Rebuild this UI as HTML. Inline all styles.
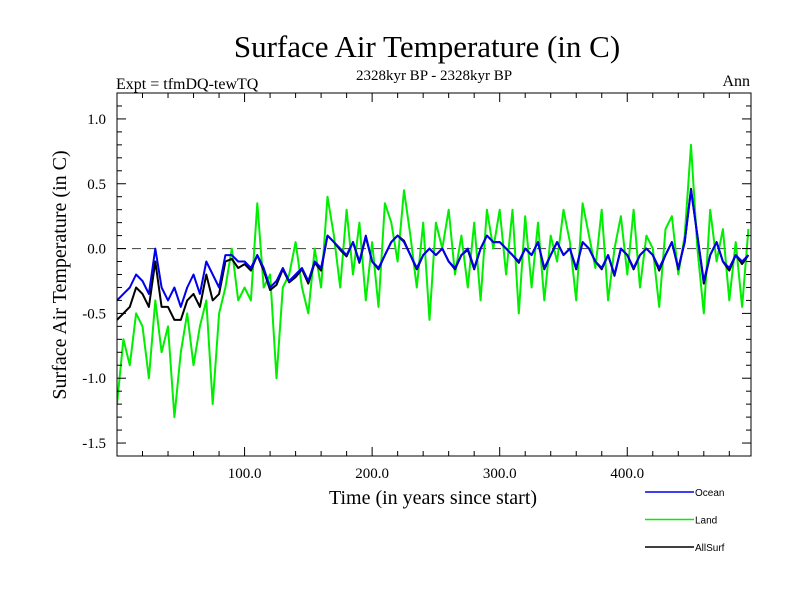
<!DOCTYPE html>
<html><head><meta charset="utf-8"><style>
body{margin:0;background:#fff}
svg{display:block}
text{font-family:"Liberation Serif",serif;fill:#000}
</style></head><body>
<svg id="chart" width="800" height="600" xmlns="http://www.w3.org/2000/svg">
<text x="427" y="57" font-size="31" text-anchor="middle">Surface Air Temperature (in C)</text>
<text x="116" y="89" font-size="16">Expt = tfmDQ-tewTQ</text>
<text x="434" y="80" font-size="15" text-anchor="middle">2328kyr BP - 2328kyr BP</text>
<text x="750" y="86" font-size="16" text-anchor="end">Ann</text>
<text transform="translate(66,275) rotate(-90)" font-size="20" text-anchor="middle">Surface Air Temperature (in C)</text>
<text x="433" y="504" font-size="20" text-anchor="middle">Time (in years since start)</text>
<g id="plot"></g>
<g id="legend"></g>
</svg>
<script>
const years=[];for(let i=0;i<100;i++)years.push(i*5);
const ocean=[-0.40,-0.35,-0.30,-0.20,-0.25,-0.35,0.00,-0.30,-0.40,-0.30,
-0.45,-0.30,-0.20,-0.35,-0.10,-0.20,-0.30,-0.05,-0.05,-0.10,
-0.10,-0.15,-0.05,-0.15,-0.30,-0.25,-0.15,-0.25,-0.20,-0.15,
-0.25,-0.10,-0.15,0.10,0.05,0.00,-0.05,0.05,-0.10,0.10,
-0.10,-0.15,-0.05,0.05,0.10,0.05,-0.05,-0.15,-0.05,0.00,
-0.05,0.00,-0.10,-0.15,-0.05,0.00,-0.15,0.00,0.10,0.05,
0.05,0.00,-0.05,-0.10,0.00,-0.05,0.05,-0.15,-0.05,0.05,
-0.05,0.00,-0.15,0.05,0.00,-0.10,-0.15,-0.05,-0.20,0.00,
-0.05,-0.15,-0.05,0.00,-0.05,-0.15,-0.05,0.05,-0.15,0.05,
0.45,0.10,-0.25,-0.05,0.05,-0.10,-0.15,-0.05,-0.10,-0.05];
const land=[-1.20,-0.70,-0.90,-0.50,-0.60,-1.00,-0.40,-0.80,-0.60,-1.30,
-0.80,-0.50,-0.90,-0.60,-0.40,-1.20,-0.50,-0.30,0.00,-0.40,
-0.30,-0.40,0.35,-0.30,-0.20,-1.00,-0.30,-0.20,0.05,-0.30,
-0.50,0.00,-0.30,0.40,0.10,-0.30,0.30,-0.20,0.20,-0.40,
0.05,-0.45,0.35,0.20,-0.10,0.45,0.10,-0.30,0.20,-0.55,
0.20,0.00,0.30,-0.20,0.10,-0.30,0.20,-0.40,0.30,0.00,
0.30,-0.20,0.30,-0.50,0.25,-0.30,0.20,-0.40,0.10,-0.10,
0.30,0.05,-0.40,0.35,0.10,-0.15,0.30,-0.40,0.00,0.25,
-0.20,0.30,-0.30,0.10,0.00,-0.45,0.15,0.25,-0.20,0.10,
0.80,0.00,-0.50,0.30,-0.10,0.15,-0.40,0.05,-0.45,0.15];
const allsurf=[-0.55,-0.50,-0.45,-0.30,-0.35,-0.45,-0.10,-0.45,-0.45,-0.55,
-0.55,-0.40,-0.35,-0.45,-0.20,-0.40,-0.35,-0.10,-0.08,-0.15,
-0.12,-0.17,-0.05,-0.17,-0.32,-0.28,-0.16,-0.26,-0.22,-0.16,
-0.27,-0.11,-0.17,0.10,0.05,-0.01,-0.06,0.05,-0.11,0.09,
-0.10,-0.16,-0.05,0.05,0.10,0.06,-0.05,-0.16,-0.05,0.00,
-0.05,0.00,-0.10,-0.16,-0.05,-0.01,-0.16,0.00,0.10,0.05,
0.05,0.00,-0.05,-0.11,0.00,-0.05,0.05,-0.16,-0.05,0.05,
-0.05,0.00,-0.16,0.05,0.00,-0.10,-0.16,-0.05,-0.21,0.00,
-0.05,-0.16,-0.05,0.00,-0.05,-0.17,-0.05,0.05,-0.16,0.05,
0.46,0.10,-0.27,-0.05,0.05,-0.10,-0.17,-0.05,-0.12,-0.05];
const xTicks=[100,200,300,400];
const xTickLabels=["100.0","200.0","300.0","400.0"];
const yTicks=[1.0,0.5,0.0,-0.5,-1.0,-1.5];
const yTickLabels=["1.0","0.5","0.0","-0.5","-1.0","-1.5"];
const seriesNames=["Ocean","Land","AllSurf"];

const L=117,R=751,T=93,B=456,X0=0,X1=497,Y0=-1.6,Y1=1.2;
const xs=v=>L+(v-X0)/(X1-X0)*(R-L);
const ys=v=>B-(v-Y0)/(Y1-Y0)*(B-T);
const NS="http://www.w3.org/2000/svg";
const plot=document.getElementById('plot');
function mk(tag,attrs,parent){const e=document.createElementNS(NS,tag);for(const k in attrs)e.setAttribute(k,attrs[k]);(parent||plot).appendChild(e);return e;}

const clip=mk('clipPath',{id:'clp'});mk('rect',{x:L,y:T,width:R-L,height:B-T},clip);
const zero=mk('line',{x1:L,x2:R,y1:ys(0),y2:ys(0),stroke:'#555','stroke-dasharray':'9,6','stroke-width':1.2});



function drawLine(vals,color,name){
  const d=vals.map((v,i)=>(i?'L':'M')+xs(years[i]).toFixed(1)+','+ys(v).toFixed(1)).join('');
  const p=mk('path',{d:d,fill:'none',stroke:color,'stroke-width':2,'clip-path':'url(#clp)','stroke-linejoin':'round'});
  
  
}
drawLine(land,'#00ee00','land-series');
drawLine(allsurf,'#000000','allsurf-series');
drawLine(ocean,'#0000ee','ocean-series');

const frame=mk('rect',{x:L,y:T,width:R-L,height:B-T,fill:'none',stroke:'#000','stroke-width':1});



for(let v=20;v<X1;v+=20){
  const major=v%100===0,len=major?9:5,x=xs(v);
  mk('line',{x1:x,x2:x,y1:B,y2:B-len,stroke:'#000'});
  mk('line',{x1:x,x2:x,y1:T,y2:T+len,stroke:'#000'});
}
for(let k=-15;k<=12;k++){
  const v=k/10,major=k%5===0,len=major?9:5,y=ys(v);
  mk('line',{x1:L,x2:L+len,y1:y,y2:y,stroke:'#000'});
  mk('line',{x1:R,x2:R-len,y1:y,y2:y,stroke:'#000'});
}
xTicks.forEach((v,i)=>{
  const t=mk('text',{x:xs(v),y:478,'font-size':15,'text-anchor':'middle'});t.textContent=xTickLabels[i];
  
  
});
yTicks.forEach((v,i)=>{
  const t=mk('text',{x:106,y:ys(v)+5,'font-size':15,'text-anchor':'end'});t.textContent=yTickLabels[i];
  
  
});

const leg=document.getElementById('legend');
const legColors=['#0000ee','#00ee00','#000000'];
seriesNames.forEach((n,i)=>{
  const y=492+i*27.5;
  const g=mk('g',{},leg);
  
  
  mk('line',{x1:645,x2:694,y1:y,y2:y,stroke:legColors[i],'stroke-width':1.5},g);
  const t=mk('text',{x:695,y:y+4,'font-size':10,style:'font-family:"Liberation Sans",sans-serif'},g);t.textContent=n;
});
</script>
</body></html>
